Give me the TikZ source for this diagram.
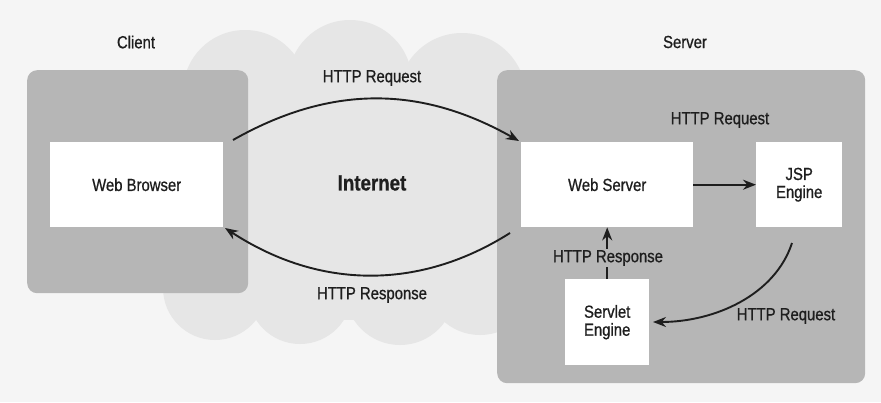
\documentclass[tikz,border=0pt]{standalone}
\usepackage{fontspec}
\setmainfont{Liberation Sans}[FakeStretch=0.85,FakeBold=0.8]
\usetikzlibrary{arrows.meta}
\definecolor{bg}{HTML}{F5F5F5}
\definecolor{cloudc}{HTML}{E6E6E6}
\definecolor{boxc}{HTML}{B6B6B6}
\definecolor{txt}{HTML}{1E1E1E}
\begin{document}
\begin{tikzpicture}[x=1pt,y=-1pt,
  txtlabel/.style={text=txt,font=\fontsize{17.5}{20}\selectfont,align=center,inner sep=1pt},
  container/.style={fill=boxc,rounded corners=10pt,draw=none},
  inbox/.style={fill=white,draw=none,anchor=north west,text=txt,font=\fontsize{17.5}{20}\selectfont,align=center},
  conn/.style={draw=txt,line width=1.9pt,-{Stealth[length=13pt,width=10pt]}}]
\useasboundingbox (0,0) rectangle (881,402);
\fill[bg] (0,0) rectangle (881,402);
% cloud
\begin{scope}[fill=cloudc]
  \fill (245,92) circle[radius=62];
  \fill (350,82) circle[radius=62];
  \fill (462,97) circle[radius=64];
  \fill (215,288) circle[radius=52];
  \fill (300,292) circle[radius=52];
  \fill (400,290) circle[radius=55];
  \fill (480,280) circle[radius=55];
  \fill (190,170) circle[radius=40];
  \fill (205,80) rectangle (525,320);
\end{scope}
% containers
\node[container,minimum width=221pt,minimum height=223pt,anchor=north west] (client) at (27,70) {};
\node[container,minimum width=368pt,minimum height=313pt,anchor=north west] (server) at (497,70) {};
\node[txtlabel] (clientlbl) at (136,42) {Client};
\node[txtlabel] (serverlbl) at (685,42) {Server};
% inner boxes
\node[inbox,minimum width=173pt,minimum height=85pt] (wb) at (50,142) {Web Browser};
\node[inbox,minimum width=172pt,minimum height=85pt] (ws) at (521,142) {Web Server};
\node[inbox,minimum width=86pt,minimum height=85pt] (jsp) at (756,142) {JSP\\[-2pt]Engine};
\node[inbox,minimum width=84pt,minimum height=86pt] (servlet) at (565,279) {Servlet\\[-2pt]Engine};
\node[text=txt,font=\fontsize{22}{25}\selectfont\bfseries] (internet) at (372,183) {Internet};
% connectors
\coordinate (reqstart) at (233,140);
\coordinate (reqend) at (519,141);
\coordinate (resstart) at (510,233);
\coordinate (resend) at (225,228);
\coordinate (jspout) at (792,243);
\coordinate (servin) at (653,322);
\draw[conn] (reqstart) .. controls (330,85) and (420,85) .. (reqend);
\draw[conn] (resstart) .. controls (420,290) and (320,290) .. (resend);
\draw[conn] (ws.east) -- (jsp.west);
\draw[conn] (jspout) .. controls (775,295) and (715,322) .. (servin);
\draw[conn] (servlet.north) -- (ws.south);
\node[txtlabel] (reqlbl) at (372,78) {HTTP Request};
\node[txtlabel] (reslbl) at (372,295) {HTTP Response};
\node[txtlabel] (jreqlbl) at (720,120) {HTTP Request};
\node[txtlabel] (sreqlbl) at (786,316) {HTTP Request};
\node[txtlabel,fill=boxc] (sreslbl) at (608,258) {HTTP Response};
\end{tikzpicture}
\end{document}
